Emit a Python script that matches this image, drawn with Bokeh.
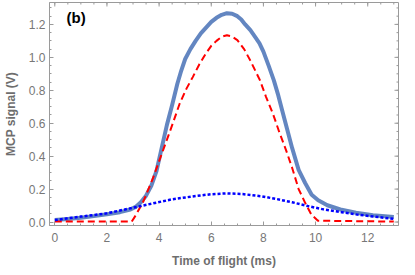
import numpy as np
from bokeh.plotting import figure
from bokeh.models import Range1d, Label, SingleIntervalTicker, NumeralTickFormatter
from bokeh.embed import file_html
from bokeh.resources import INLINE

# measured MCP signal (thick solid line)
t_meas = [0, 0.5, 1.0, 1.5, 2.0, 2.5, 2.9, 3.1, 3.3, 3.5, 3.7, 3.9, 4.1, 4.3, 4.5, 4.7,
          4.85, 5.0, 5.2, 5.4, 5.6, 5.8, 6.0, 6.2, 6.4, 6.6, 6.8, 7.0, 7.15, 7.3, 7.5, 7.7,
          7.85, 8.0, 8.2, 8.4, 8.55, 8.7, 8.9, 9.1, 9.35, 9.6, 9.85, 10.1, 10.45, 10.95,
          11.55, 12.2, 13.0]
v_meas = [0.012, 0.018, 0.026, 0.036, 0.047, 0.060, 0.076, 0.092, 0.12, 0.16, 0.22, 0.31,
          0.45, 0.59, 0.71, 0.84, 0.92, 0.99, 1.05, 1.10, 1.145, 1.18, 1.215, 1.24, 1.258,
          1.268, 1.265, 1.25, 1.23, 1.20, 1.165, 1.12, 1.085, 1.035, 0.95, 0.86, 0.78,
          0.69, 0.57, 0.45, 0.317, 0.237, 0.166, 0.132, 0.102, 0.076, 0.056, 0.041, 0.031]

# red dashed component
t_red = [0, 2.95, 3.1, 3.38, 3.75, 4.0, 4.3, 4.55, 4.79, 5.05, 5.29, 5.55, 5.78, 6.0, 6.2,
         6.4, 6.6, 6.8, 7.0, 7.26, 7.5, 7.87, 8.1, 8.36, 8.6, 8.86, 9.1, 9.35, 9.59, 9.84,
         10.09, 13.0]
v_red = [0.003, 0.003, 0.04, 0.12, 0.26, 0.37, 0.50, 0.61, 0.72, 0.81, 0.88, 0.96, 1.02,
         1.07, 1.10, 1.125, 1.134, 1.126, 1.105, 1.05, 0.98, 0.86, 0.76, 0.66, 0.55, 0.44,
         0.33, 0.20, 0.12, 0.045, 0.008, 0.003]

# blue dotted component
t_blue = [0, 1, 2, 3, 3.9, 4.5, 5.4, 6.0, 6.6, 7.2, 7.9, 8.5, 9.1, 9.7, 10.3, 11.0, 11.6,
          12.3, 13.0]
v_blue = [0.012, 0.033, 0.053, 0.087, 0.118, 0.138, 0.158, 0.169, 0.174, 0.170, 0.157,
          0.140, 0.120, 0.097, 0.077, 0.060, 0.045, 0.032, 0.019]

# tick positions
x_major = [0, 2, 4, 6, 8, 10, 12]
y_major = [0.0, 0.2, 0.4, 0.6, 0.8, 1.0, 1.2]
x_minor = [0.5 * i for i in range(0, 27)]
y_minor = [0.05 * i for i in range(0, 27)]

x_label = "Time of flight (ms)"
y_label = "MCP signal (V)"
panel = "(b)"

X0, X1 = -0.203, 13.18
Y0, Y1 = -0.021, 1.333

FONT = "Liberation Sans"
GRAY = "#9a9a9a"
TXT = "#777777"

p = figure(width=399, height=270, output_backend="svg", toolbar_location=None,
           x_range=Range1d(X0, X1), y_range=Range1d(Y0, Y1),
           min_border_left=39, min_border_right=1, min_border_top=2, min_border_bottom=44)
p.xgrid.visible = False
p.ygrid.visible = False
p.outline_line_color = GRAY
p.background_fill_color = "white"
p.border_fill_color = "white"

for ax in (p.xaxis[0], p.yaxis[0]):
    ax.axis_line_color = GRAY
    ax.major_tick_line_color = GRAY
    ax.minor_tick_line_color = GRAY
    ax.major_tick_in = 4
    ax.major_tick_out = 0
    ax.minor_tick_in = 2
    ax.minor_tick_out = 0
    ax.major_label_text_font = FONT
    ax.major_label_text_color = TXT
    ax.major_label_text_font_size = "12px"
    ax.axis_label_text_font = FONT
    ax.axis_label_text_font_style = "bold"
    ax.axis_label_text_color = "#6e6e6e"
    ax.axis_label_text_font_size = "12px"

p.xaxis.ticker = SingleIntervalTicker(interval=2, num_minor_ticks=4)
p.yaxis.ticker = SingleIntervalTicker(interval=0.2, num_minor_ticks=4)
p.yaxis.formatter = NumeralTickFormatter(format="0.0")
p.xaxis.axis_label = x_label
p.yaxis.axis_label = y_label
p.xaxis.major_label_standoff = 7
p.xaxis.axis_label_standoff = 9
p.yaxis.major_label_standoff = 4
p.yaxis.axis_label_standoff = 8

# inward ticks on the top and right edges of the frame (clipped to the frame)
p.scatter(x_major, [Y1] * len(x_major), marker="dash", size=8, angle=np.pi / 2,
          line_color=GRAY, line_width=1)
p.scatter(x_minor, [Y1] * len(x_minor), marker="dash", size=4, angle=np.pi / 2,
          line_color=GRAY, line_width=1)
p.scatter([X1] * len(y_major), y_major, marker="dash", size=8, line_color=GRAY, line_width=1)
p.scatter([X1] * len(y_minor), y_minor, marker="dash", size=4, line_color=GRAY, line_width=1)

p.line(t_meas, v_meas, line_color="#5b80be", line_width=4, line_alpha=0.95,
       line_join="round")
p.line(t_red, v_red, line_color="#ff0000", line_width=2, line_dash="7 4")
p.line(t_blue, v_blue, line_color="#0000ff", line_width=2.5, line_dash="3 2")

p.add_layout(Label(x=0.45, y=1.24, text=panel, text_font=FONT, text_font_style="bold",
                   text_font_size="15px", text_color="black", text_baseline="middle"))

open("out.html", "w").write(file_html(p, INLINE))
